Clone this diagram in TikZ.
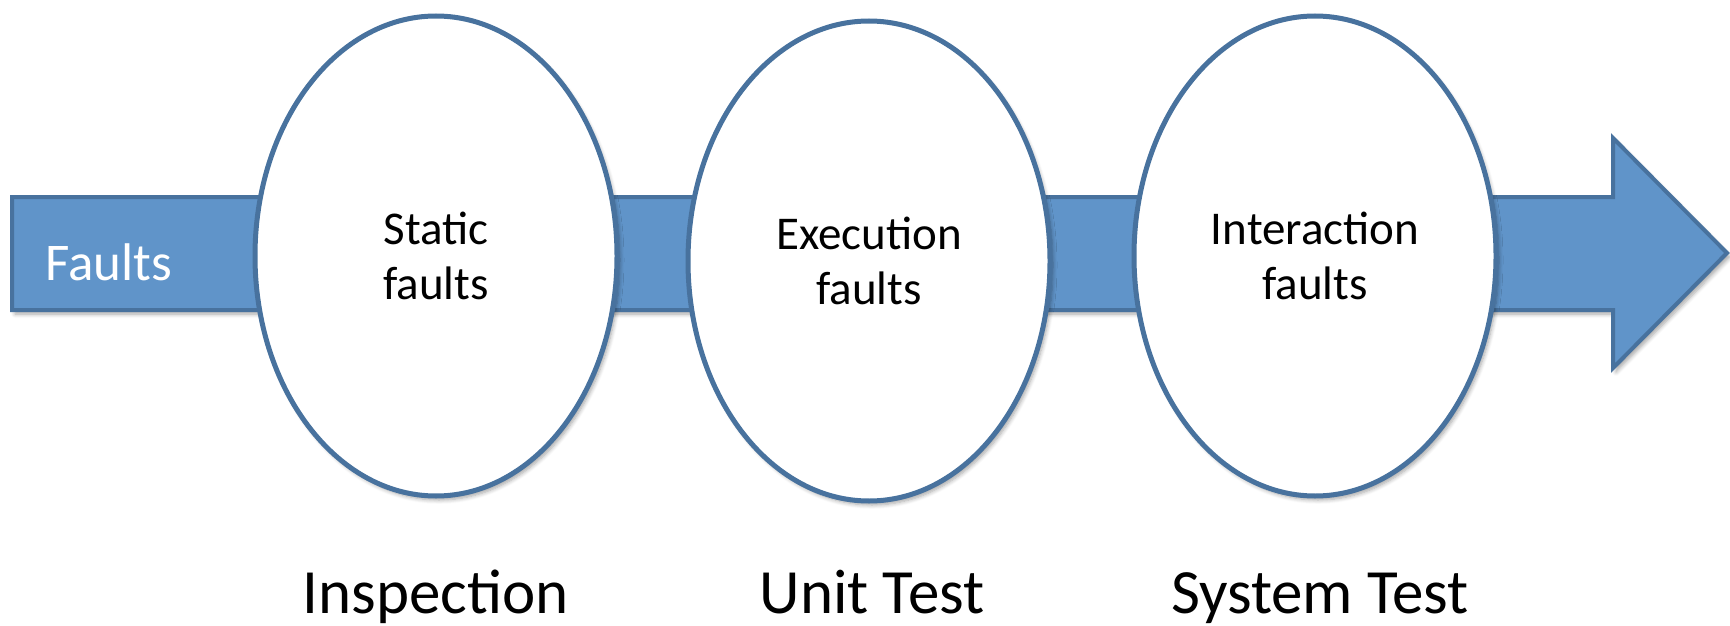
\documentclass[tikz,border=0pt]{standalone}
\usepackage{fontspec}
\setmainfont{Carlito}
\usetikzlibrary{shapes.geometric,shadows.blur}

\definecolor{flowfill}{RGB}{96,148,201}
\definecolor{flowline}{RGB}{72,114,158}

\tikzset{
  softshadow/.style={blur shadow={shadow xshift=3pt, shadow yshift=-4pt,
      shadow blur steps=6, shadow blur radius=4pt, shadow opacity=35}},
  flowarrow/.style={fill=flowfill, draw=flowline, line width=4pt,
      line join=miter, softshadow},
  stage/.style={ellipse, draw=flowline, fill=white, line width=5pt,
      minimum width=362pt, minimum height=480pt, inner sep=0pt,
      align=center, text=black, font=\fontsize{47}{55}\selectfont, softshadow},
  phase/.style={anchor=base, inner sep=0pt, text=black,
      font=\fontsize{63}{72}\selectfont},
  flowlabel/.style={anchor=base west, inner sep=0pt, text=white,
      font=\fontsize{53}{60}\selectfont}
}

\begin{document}
\begin{tikzpicture}[x=1pt, y=-1pt]
  \useasboundingbox (0,0) rectangle (1730,626);

  % the broad block arrow running through all stages
  \coordinate (tail-top) at (12,197);
  \coordinate (tail-bot) at (12,310);
  \coordinate (tip) at (1727,253);
  \path[flowarrow] (tail-top) -- (1613,197) -- (1613,138) -- (tip)
    -- (1613,368) -- (1613,310) -- (tail-bot) -- cycle;
  \node[flowlabel] (faults) at (45,280) {Faults};

  % the three stages sitting on the arrow
  \node[stage] (inspect) at (436,256) {Static\\faults};
  \node[stage] (unit)    at (869,261) {Execution\\faults};
  \node[stage] (system)  at (1315,256) {Interaction\\faults};

  % phase names below each stage
  \node[phase] (inspect-name) at (436,613) {Inspection};
  \node[phase] (unit-name)    at (872,613) {Unit Test};
  \node[phase] (system-name)  at (1320,613) {System Test};
\end{tikzpicture}
\end{document}
